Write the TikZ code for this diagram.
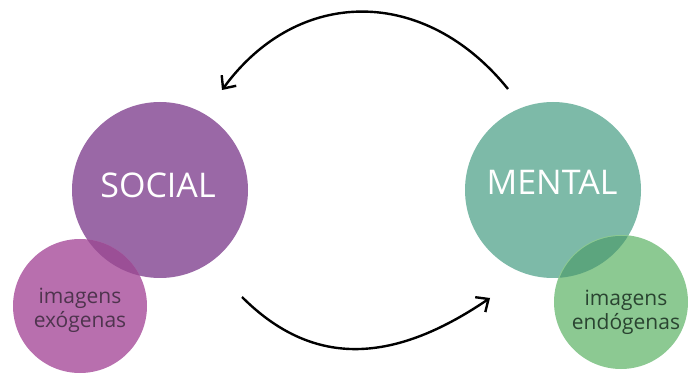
\documentclass[tikz,border=0pt]{standalone}
\usepackage{fontspec}
\setmainfont{Open Sans}
\usepackage{tikz}
\usetikzlibrary{arrows.meta}
\definecolor{socialpurple}{HTML}{9A68A6}
\definecolor{exopink}{HTML}{B86FAE}
\definecolor{exooverlap}{HTML}{9B4F96}
\definecolor{mentalteal}{HTML}{7DBAA8}
\definecolor{endogreen}{HTML}{8CC992}
\definecolor{endooverlap}{HTML}{5CA57E}
\definecolor{exotext}{HTML}{4E344E}
\definecolor{endotext}{HTML}{2A4431}

\begin{document}
\begin{tikzpicture}[x=1pt,y=-1pt,
    bigcircle/.style={circle, inner sep=0pt, minimum size=176pt},
    smallcircle/.style={circle, inner sep=0pt, minimum size=134pt},
    biglabel/.style={text=white, font=\fontsize{34}{40}\selectfont},
    smalllabel/.style={align=center, font=\fontsize{21}{24}\selectfont},
    cycle/.style={line width=2.4pt, -{Straight Barb[length=10pt,width=18pt,line width=2.4pt]}}]
        \useasboundingbox (0,0) rectangle (688,379);
        % Social side
        \node[bigcircle, fill=socialpurple] (social) at (160,190) {};
        \node[smallcircle, fill=exopink] (exogenas) at (80,306) {};
        \begin{scope}
          \clip (160,190) circle[radius=88pt];
          \fill[exooverlap] (80,306) circle[radius=67pt];
        \end{scope}
        % Mental side
        \node[bigcircle, fill=mentalteal] (mental) at (553,190) {};
        \node[smallcircle, fill=endogreen] (endogenas) at (621,302) {};
        \begin{scope}
          \clip (553,190) circle[radius=88pt];
          \fill[endooverlap] (621,302) circle[radius=66pt];
        \end{scope}
        % Labels
        \node[biglabel] (sociallabel) at (158,185) {SOCIAL};
        \node[biglabel] (mentallabel) at (552,182) {MENTAL};
        \node[smalllabel, text=exotext] (exolabel) at (80,310) {imagens\\exógenas};
        \node[smalllabel, text=endotext] (endolabel) at (626,312) {imagens\\endógenas};
        % Arrow ends
        \coordinate (topstart) at (508,89);
        \coordinate (topend) at (222,90);
        \coordinate (botstart) at (242,297);
        \coordinate (botend) at (490,298);
        % The two arcs
        \draw[cycle] (topstart) .. controls (425,-14) and (298,-14) .. (topend);
        \draw[cycle] (botstart) .. controls (311,366) and (390,366) .. (botend);
\end{tikzpicture}
\end{document}
